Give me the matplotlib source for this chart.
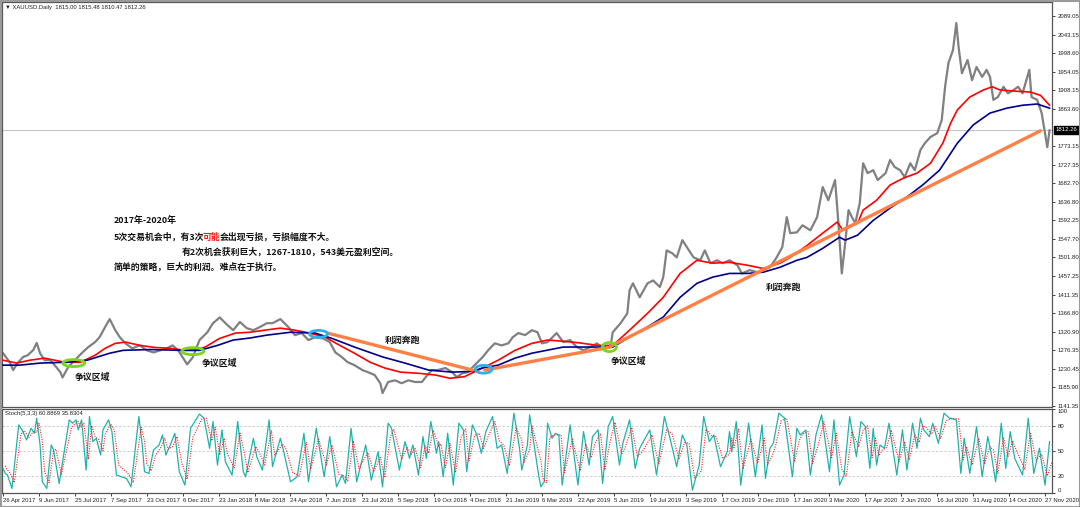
import matplotlib
matplotlib.use("Agg")
import matplotlib.pyplot as plt
from matplotlib.patches import Ellipse, Rectangle

# ---------------- data ----------------
price_bars = [0, 6, 9, 13, 18, 22, 27, 30, 33, 37, 42, 46, 51, 53, 58, 64, 70, 76, 82, 86,
              91, 95, 100, 104, 109, 115, 122, 128, 134, 140, 146, 151, 156, 160, 164, 169, 175, 182, 187, 193,
              200, 205, 211, 217, 223, 229, 235, 240, 247, 254, 260, 266, 272, 278, 285, 291, 296, 302, 307, 313,
              320, 325, 331, 336, 338, 343, 349, 355, 361, 367, 373, 378, 382, 387, 394, 400, 404, 409, 414, 420,
              427, 432, 438, 444, 450, 454, 459, 465, 471, 476, 480, 485, 493, 499, 505, 511, 517, 523, 529, 534,
              541, 543, 550, 556, 558, 561, 567, 574, 579, 585, 588, 591, 596, 600, 605, 609, 615, 621, 625, 630,
              636, 641, 647, 654, 658, 665, 672, 677, 683, 689, 694, 698, 701, 707, 712, 719, 725, 730, 735, 741,
              744, 747, 750, 753, 756, 759, 763, 766, 770, 775, 779, 786, 790, 794, 799, 803, 808, 812, 817, 821,
              826, 832, 836, 839, 842, 846, 849, 851, 854, 859, 863, 867, 872, 876, 879, 882, 886, 891, 895, 900,
              904, 908, 914, 916, 921, 925, 928, 930, 932]
price_close = [1269, 1247, 1228, 1245, 1260, 1264, 1277, 1294, 1269, 1252, 1252, 1240, 1223, 1210, 1235, 1252, 1269, 1284, 1296, 1308,
               1333, 1352, 1325, 1308, 1293, 1281, 1288, 1276, 1271, 1276, 1281, 1288, 1276, 1259, 1242, 1259, 1301, 1320, 1342, 1356,
               1337, 1325, 1345, 1330, 1325, 1333, 1342, 1342, 1352, 1333, 1313, 1318, 1301, 1308, 1305, 1296, 1271, 1259, 1247, 1240,
               1228, 1223, 1216, 1196, 1172, 1199, 1203, 1196, 1203, 1199, 1199, 1216, 1228, 1228, 1233, 1223, 1211, 1220, 1223, 1240,
               1259, 1276, 1293, 1288, 1293, 1308, 1318, 1313, 1325, 1320, 1293, 1296, 1318, 1296, 1301, 1284, 1276, 1284, 1293, 1281,
               1284, 1320, 1342, 1366, 1422, 1439, 1405, 1439, 1446, 1430, 1454, 1519, 1512, 1502, 1544, 1527, 1502, 1495, 1519, 1488,
               1495, 1488, 1495, 1483, 1463, 1471, 1466, 1471, 1478, 1502, 1527, 1600, 1561, 1563, 1580, 1568, 1600, 1673, 1641, 1690,
               1585, 1463, 1536, 1617, 1600, 1585, 1634, 1731, 1707, 1714, 1690, 1707, 1739, 1722, 1714, 1697, 1731, 1714, 1763, 1780,
               1795, 1804, 1836, 1917, 1975, 2006, 2072, 2014, 1950, 1982, 1933, 1965, 1941, 1958, 1941, 1885, 1892, 1917, 1901, 1909,
               1917, 1901, 1958, 1892, 1885, 1853, 1804, 1770, 1811]

ma_red_bars = [0, 12, 24, 37, 46, 55, 69, 82, 91, 100, 109, 122, 135, 149, 162, 171, 180, 193, 207, 220,
               233, 247, 260, 273, 287, 300, 313, 327, 340, 354, 371, 385, 398, 411, 427, 441, 456, 471, 485, 499,
               514, 529, 543, 558, 574, 588, 603, 618, 632, 647, 663, 677, 692, 701, 716, 730, 743, 748, 761, 766,
               778, 790, 802, 814, 826, 837, 844, 850, 861, 873, 881, 888, 903, 915, 924, 932]
ma_red = [1252, 1245, 1252, 1257, 1252, 1247, 1247, 1264, 1281, 1293, 1296, 1288, 1283, 1281, 1276, 1276, 1284, 1305, 1318, 1320,
          1325, 1330, 1325, 1318, 1308, 1288, 1269, 1247, 1233, 1223, 1220, 1216, 1208, 1212, 1233, 1252, 1276, 1293, 1301, 1298,
          1294, 1288, 1288, 1325, 1366, 1405, 1463, 1495, 1488, 1490, 1483, 1475, 1488, 1502, 1531, 1561, 1588, 1568, 1585, 1617,
          1641, 1678, 1695, 1707, 1731, 1780, 1829, 1861, 1892, 1909, 1917, 1909, 1906, 1904, 1896, 1872]

ma_blue_bars = [0, 15, 33, 57, 75, 95, 107, 131, 158, 175, 191, 205, 220, 235, 256, 278, 293, 313, 338, 358,
                379, 400, 418, 427, 441, 456, 471, 499, 529, 543, 558, 574, 588, 603, 618, 632, 647, 663, 677, 692,
                707, 716, 730, 745, 750, 761, 775, 790, 805, 819, 834, 850, 864, 879, 894, 908, 921, 932]
ma_blue = [1240, 1240, 1245, 1247, 1252, 1269, 1276, 1278, 1276, 1276, 1288, 1301, 1306, 1313, 1320, 1318, 1305, 1284, 1260, 1245,
           1228, 1223, 1225, 1233, 1240, 1257, 1269, 1284, 1284, 1284, 1308, 1333, 1357, 1405, 1439, 1454, 1463, 1463, 1466, 1478,
           1495, 1502, 1524, 1551, 1544, 1556, 1592, 1622, 1649, 1678, 1714, 1780, 1824, 1853, 1865, 1872, 1875, 1865]

stoch_bars = [0, 2, 4, 8, 14, 17, 21, 25, 28, 30, 33, 35, 39, 43, 45, 50, 59, 62, 65, 67,
              70, 74, 77, 80, 83, 87, 89, 94, 97, 101, 110, 114, 121, 124, 126, 130, 134, 139, 142, 145,
              149, 153, 157, 162, 167, 175, 179, 184, 187, 191, 195, 198, 204, 209, 214, 216, 223, 226, 231, 237,
              240, 247, 250, 256, 262, 268, 272, 279, 286, 291, 297, 302, 305, 310, 315, 323, 328, 334, 338, 343,
              346, 353, 358, 362, 365, 370, 374, 377, 381, 386, 388, 392, 396, 401, 406, 410, 413, 418, 422, 426,
              430, 436, 440, 444, 449, 455, 460, 462, 467,
              469, 477, 479, 482, 485, 489, 492, 495, 498, 505, 512, 517, 522, 525, 530, 534, 539, 543, 549, 552,
              558, 563, 567, 576, 582, 589, 594, 600, 605, 609, 614, 620, 624, 629, 633, 639, 645, 647, 649, 653,
              657, 664, 670, 676, 679, 683, 686, 691, 696, 703, 707, 710, 715, 719, 724, 729, 736, 740, 745, 749,
              754, 760, 764, 768, 772, 775, 778, 781, 785, 789, 796, 801, 805, 810, 814, 817, 820, 825, 828, 833,
              838, 843, 849, 853, 856, 861, 867, 872, 877, 880, 884, 889, 893, 897, 901, 908, 913, 918, 923, 928,
              932]
stoch_main = [29, 23, 21, 5, 81, 75, 63, 77, 71, 89, 57, 13, 5, 57, 51, 11, 87, 83, 87, 75,
              87, 27, 91, 61, 65, 45, 75, 87, 73, 21, 17, 7, 91, 57, 25, 23, 51, 57, 69, 45,
              57, 71, 25, 9, 77, 94, 89, 53, 85, 33, 75, 37, 21, 85, 25, 19, 65, 43, 27, 87,
              31, 65, 49, 13, 19, 71, 13, 77, 19, 67, 7, 21, 11, 77, 13, 57, 15, 49, 7, 83,
              77, 27, 61, 41, 57, 21, 67, 41, 85, 47, 61, 19, 71, 9, 83, 75, 25, 81, 69, 47,
              73, 91, 53, 57, 23, 95, 53, 27, 57,
              93, 21, 7, 13, 83, 65, 71, 69, 9, 81, 9, 73, 33, 67, 75, 11, 79, 91, 33, 59,
              87, 29, 53, 75, 21, 91, 65, 31, 69, 57, 3, 33, 91, 61, 69, 31, 49, 73, 49, 85,
              9, 83, 19, 81, 17, 53, 59, 95, 89, 19, 77, 69, 75, 21, 69, 93, 25, 87, 9, 21,
              91, 43, 85, 79, 29, 77, 33, 57, 53, 83, 21, 75, 27, 83, 53, 89, 75, 67, 83, 59,
              95, 89, 87, 23, 65, 23, 79, 19, 67, 47, 13, 83, 29, 73, 41, 21, 89, 23, 53, 9,
              61]
stoch_signal = [32, 27, 24, 12, 70, 74, 66, 73, 72, 83, 62, 25, 12, 50, 52, 22, 78, 82, 85, 78,
                83, 40, 80, 67, 64, 50, 70, 82, 75, 33, 22, 12, 78, 62, 35, 26, 45, 55, 65, 52,
                55, 67, 37, 16, 66, 88, 89, 62, 78, 45, 65, 46, 29, 72, 40, 24, 55, 49, 33, 74,
                45, 58, 52, 24, 20, 60, 28, 64, 33, 57, 22, 20, 14, 62, 29, 48, 25, 42, 18, 67,
                76, 40, 54, 46, 53, 30, 56, 47, 75, 56, 58, 30, 59, 24, 67, 76, 38, 68, 71, 53,
                67, 85, 62, 57, 32, 78, 63, 36, 51,
                80, 38, 16, 12, 66, 69, 69, 69, 24, 64, 26, 58, 42, 58, 71, 27, 63, 84, 46, 54,
                78, 43, 48, 69, 34, 75, 70, 40, 60, 59, 17, 26, 76, 68, 67, 41, 46, 65, 54, 76,
                28, 64, 35, 65, 33, 44, 56, 86, 89, 37, 62, 70, 73, 35, 57, 85, 42, 71, 28, 20,
                73, 55, 75, 80, 42, 65, 44, 51, 54, 75, 37, 61, 39, 69, 60, 80, 78, 70, 79, 65,
                86, 89, 88, 39, 55, 33, 65, 34, 55, 51, 23, 66, 43, 62, 49, 28, 72, 39, 46, 20,
                36]

tick_bars = list(range(0, 929, 32))
tick_dates = ["26 Apr 2017", "9 Jun 2017", "25 Jul 2017", "7 Sep 2017", "23 Oct 2017", "6 Dec 2017",
              "23 Jan 2018", "8 Mar 2018", "24 Apr 2018", "7 Jun 2018", "23 Jul 2018", "5 Sep 2018",
              "19 Oct 2018", "4 Dec 2018", "21 Jan 2019", "6 Mar 2019", "22 Apr 2019", "5 Jun 2019",
              "19 Jul 2019", "3 Sep 2019", "17 Oct 2019", "2 Dec 2019", "17 Jan 2020", "3 Mar 2020",
              "17 Apr 2020", "2 Jun 2020", "16 Jul 2020", "31 Aug 2020", "14 Oct 2020", "27 Nov 2020"]
price_ticks = [2089.05, 2043.15, 1998.60, 1954.05, 1908.15, 1863.60, 1773.15, 1727.35, 1682.70,
               1636.80, 1592.25, 1547.70, 1501.80, 1457.25, 1411.35, 1366.80, 1320.90, 1276.35,
               1230.45, 1185.90, 1141.35]
stoch_ticks = [0, 20, 50, 80, 100]
last_price = 1812.26

trend_bars = [[289, 418], [429, 541], [541, 924]]
trend_prices = [[1318, 1228], [1228, 1284], [1286, 1810]]

zone_bars = [63, 169, 281, 428, 540]
zone_prices = [1245, 1274, 1316, 1230, 1284]
zone_kind = ["争议", "争议", "利润", "利润", "争议"]

label_texts = ["争议区域", "争议区域", "利润奔跑", "争议区域", "利润奔跑"]
label_bars = [64, 177, 340, 541, 679]
label_prices = [1209, 1243, 1299, 1250, 1430]

# ---------------- figure ----------------
W, H = 1080, 507
fig = plt.figure(figsize=(W / 100, H / 100), dpi=100)
fig.patch.set_facecolor("white")

def frac_rect(x0, y0, x1, y1):
    return [x0 / W, 1 - y1 / H, (x1 - x0) / W, (y1 - y0) / H]

ax = fig.add_axes(frac_rect(2, 2, 1052, 407))
axs = fig.add_axes(frac_rect(2, 409, 1052, 493), sharex=ax)

tick_font = ["Liberation Sans", "DejaVu Sans"]
cjk = ["Noto Sans CJK SC", "DejaVu Sans"]

# main panel
ax.axhline(last_price, color="#c8c8c8", lw=0.8, zorder=1)
ax.plot(price_bars, price_close, color="#808080", lw=1.6, zorder=2)
ax.plot(ma_red_bars, ma_red, color="#ff0000", lw=1.2, zorder=3)
ax.plot(ma_blue_bars, ma_blue, color="#00008b", lw=1.2, zorder=3)
for bx, py in zip(trend_bars, trend_prices):
    ax.plot(bx, py, color="#ff7f45", lw=2.4, solid_capstyle="round", zorder=4)

zone_w = [19.6, 19.6, 16, 15, 12.5]
zone_h = [17, 17, 17, 19, 22]
for bx, py, kind, w, h in zip(zone_bars, zone_prices, zone_kind, zone_w, zone_h):
    col = "#7ed321" if kind == "争议" else "#2fb0f0"
    ax.add_patch(Ellipse((bx, py), w, h, fill=False, edgecolor=col, lw=2.0, zorder=5))

for t, bx, py in zip(label_texts, label_bars, label_prices):
    ax.text(bx, py, t, family=cjk, fontsize=6.4, fontweight="bold", ha="left", va="center",
            color="#111111", zorder=6)

ax.set_xlim(-0.9, 934.2)
ax.set_ylim(1138.2, 2123.1)
ax.yaxis.tick_right()
ax.set_yticks(price_ticks)
ax.set_yticklabels([f"{v:.2f}" for v in price_ticks])
ax.tick_params(axis="y", direction="out", length=2.5, width=0.6, labelsize=4.3, pad=1.5,
               colors="#222222")
for lab in ax.get_yticklabels():
    lab.set_family(tick_font)
ax.tick_params(axis="x", bottom=False, labelbottom=False)

# price box
ax.annotate(f"{last_price:.2f}", xy=(1.0, last_price), xycoords=("axes fraction", "data"),
            xytext=(2.5, 0), textcoords="offset points", va="center", ha="left",
            fontsize=4.3, color="white", family=tick_font,
            bbox=dict(boxstyle="square,pad=0.25", fc="black", ec="black"))

# stochastic panel
for lvl in (80, 50, 20):
    axs.axhline(lvl, color="#c8c8c8", lw=0.6, ls=(0, (3, 2)), zorder=1)
axs.plot(stoch_bars, stoch_main, color="#20b2aa", lw=0.9, zorder=3)
axs.plot([b + 2 for b in stoch_bars], stoch_signal, color="#ff2020", lw=0.8, ls=(0, (1, 1.2)), zorder=4)
axs.set_ylim(-0.4, 100)
axs.yaxis.tick_right()
axs.set_yticks(stoch_ticks)
axs.set_yticklabels([str(v) for v in stoch_ticks])
axs.tick_params(axis="y", direction="out", length=2.5, width=0.6, labelsize=4.3, pad=1.5,
                colors="#222222")
for lab in axs.get_yticklabels():
    lab.set_family(tick_font)
    if lab.get_text() == "100":
        lab.set_va("top")
    elif lab.get_text() == "0":
        lab.set_va("bottom")
axs.set_xticks(tick_bars)
axs.set_xticklabels(tick_dates)
axs.tick_params(axis="x", direction="out", length=2.5, width=0.6, labelsize=4.3, pad=1,
                colors="#222222")
for lab in axs.get_xticklabels():
    lab.set_family(tick_font)
    lab.set_ha("left")

for a in (ax, axs):
    for s in a.spines.values():
        s.set_color("#555555")
        s.set_linewidth(0.9)

# header texts
fig.text(5 / W, 1 - 7 / H, "▼ XAUUSD,Daily  1815.00 1815.48 1810.47 1812.26",
         family=tick_font, fontsize=4.2, color="#222222", va="center", ha="left")
fig.text(5 / W, 1 - 414 / H, "Stoch(5,3,3) 60.8869 35.8304",
         family=tick_font, fontsize=4.2, color="#222222", va="center", ha="left")

# annotation text block
tp = dict(family=cjk, fontsize=6.4, fontweight="bold", color="#111111")
fig.text(114 / W, 1 - 220 / H, "2017年-2020年", va="center", ha="left", **tp)
seg1 = fig.text(114 / W, 1 - 237 / H, "5次交易机会中，有3次", va="center", ha="left", **tp)
seg2 = fig.add_artist(plt.Annotation("可能", xy=(1, 0), xycoords=seg1,
                                     xytext=(-1.5, 0), textcoords="offset points",
                                     va="bottom", ha="left", **dict(tp, color="#ff1a1a")))
seg3 = fig.add_artist(plt.Annotation("会出现亏损，亏损幅度不大。", xy=(1, 0), xycoords=seg2,
                                     va="bottom", ha="left", **tp))
fig.text(182 / W, 1 - 252 / H, "有2次机会获利巨大，1267-1810，543美元盈利空间。",
         va="center", ha="left", **tp)
fig.text(114 / W, 1 - 267 / H, "简单的策略，巨大的利润。难点在于执行。",
         va="center", ha="left", **tp)

# window frame
fig.add_artist(Rectangle((0.5 / W, 0.5 / H), 1 - 1 / W, 1 - 1 / H, transform=fig.transFigure,
                         fill=False, edgecolor="#9a9a9a", lw=1.5))

fig.savefig("out.png", dpi=100, facecolor="white")
